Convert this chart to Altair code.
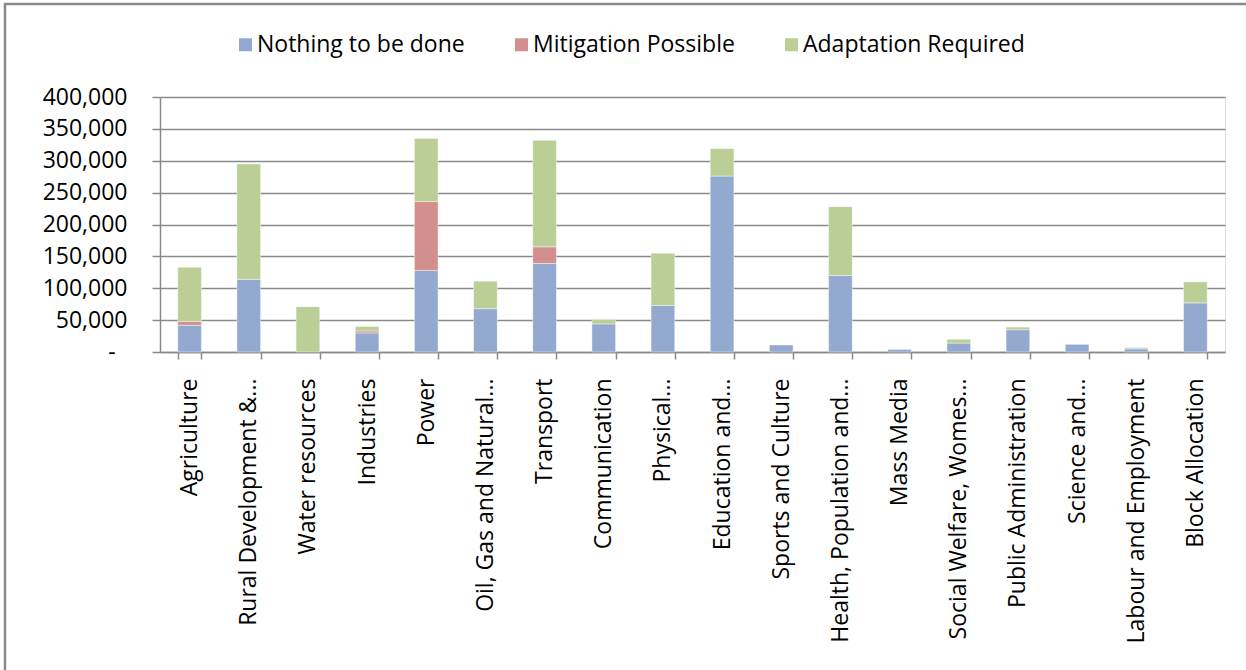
import altair as alt
import pandas as pd

categories = [
    "Agriculture", "Rural Development &...", "Water resources", "Industries",
    "Power", "Oil, Gas and Natural...", "Transport", "Communication",
    "Physical...", "Education and...", "Sports and Culture",
    "Health, Population and...", "Mass Media", "Social Welfare, Womes...",
    "Public Administration", "Science and...", "Labour and Employment",
    "Block Allocation",
]
nothing = [42000, 114000, 0, 30000, 128000, 68000, 139000, 44000, 73000,
           276000, 11000, 120000, 4000, 14000, 35000, 12000, 5000, 77000]
mitigation = [6000, 0, 0, 3000, 108000, 0, 26000, 0, 0,
              0, 0, 0, 0, 0, 0, 0, 0, 0]
adaptation = [85000, 181000, 71000, 7000, 99000, 43000, 167000, 7000, 82000,
              43000, 0, 108000, 0, 6000, 4000, 0, 2000, 33000]

series = ["Nothing to be done", "Mitigation Possible", "Adaptation Required"]
colors = ["#94A9D0", "#D28F8E", "#BACE96"]
y_ticks = [0, 50000, 100000, 150000, 200000, 250000, 300000, 350000, 400000]

rows = []
for i, cat in enumerate(categories):
    for k, (name, vals) in enumerate(zip(series, [nothing, mitigation, adaptation])):
        if vals[i] > 0:
            rows.append({"category": cat, "series": name, "value": vals[i], "order": k})
df = pd.DataFrame(rows)

GRAY = "#8a8a8a"
FONT = "Open Sans"
FS = 23

bars = alt.Chart(df).mark_bar(stroke="#ffffff", strokeWidth=0.6, strokeOpacity=0.7).encode(
    x=alt.X(
        "category:N", sort=categories,
        scale=alt.Scale(paddingInner=0.6, paddingOuter=0.3),
        axis=alt.Axis(
            title=None, labelAngle=-90, tickBand="extent", tickSize=7,
            labelPadding=19, labelLimit=500, labelFontSize=FS, labelFont=FONT,
            labelColor="#000000", domainColor=GRAY, domainWidth=1.5,
            tickColor=GRAY, tickWidth=1.5, grid=False,
        ),
    ),
    y=alt.Y(
        "value:Q", stack="zero",
        scale=alt.Scale(domain=[0, 400000], nice=False),
        axis=alt.Axis(
            title=None, values=y_ticks, format=",",
            labelExpr="datum.value === 0 ? '-\u00a0\u00a0\u200b' : format(datum.value, ',')",
            tickSize=8, labelPadding=25, labelFontSize=FS, labelFont=FONT,
            labelColor="#000000", domainColor=GRAY, domainWidth=1.5,
            tickColor=GRAY, tickWidth=1.5, grid=True, gridColor=GRAY,
            gridWidth=1.5,
        ),
    ),
    color=alt.Color(
        "series:N", sort=series,
        scale=alt.Scale(domain=series, range=colors),
        legend=alt.Legend(
            title=None, orient="none", legendX=74, legendY=-64,
            direction="horizontal", symbolType="square", symbolSize=169,
            symbolStrokeWidth=0, labelFontSize=FS, labelFont=FONT,
            labelColor="#000000", labelOffset=0, columnPadding=45, padding=0,
            labelLimit=1000,
        ),
    ),
    order=alt.Order("order:Q", sort="ascending"),
)

frame_df = pd.DataFrame({"k": [0]})
top_border = alt.Chart(frame_df).mark_rule(color=GRAY, strokeWidth=2.5).encode(
    x=alt.value(-156), x2=alt.value(1100), y=alt.value(-93)
)
left_border = alt.Chart(frame_df).mark_rule(color=GRAY, strokeWidth=2.5).encode(
    x=alt.value(-155), y=alt.value(-94), y2=alt.value(590)
)

chart = alt.layer(bars, top_border, left_border).properties(
    width=1065, height=255,
    autosize=alt.AutoSizeParams(type="none"),
    padding={"left": 160, "top": 97, "right": 21, "bottom": 318},
    background="#ffffff",
).configure_view(stroke=None).configure(font=FONT)

chart.save("out.html", embed_options={"renderer": "svg", "actions": False})
